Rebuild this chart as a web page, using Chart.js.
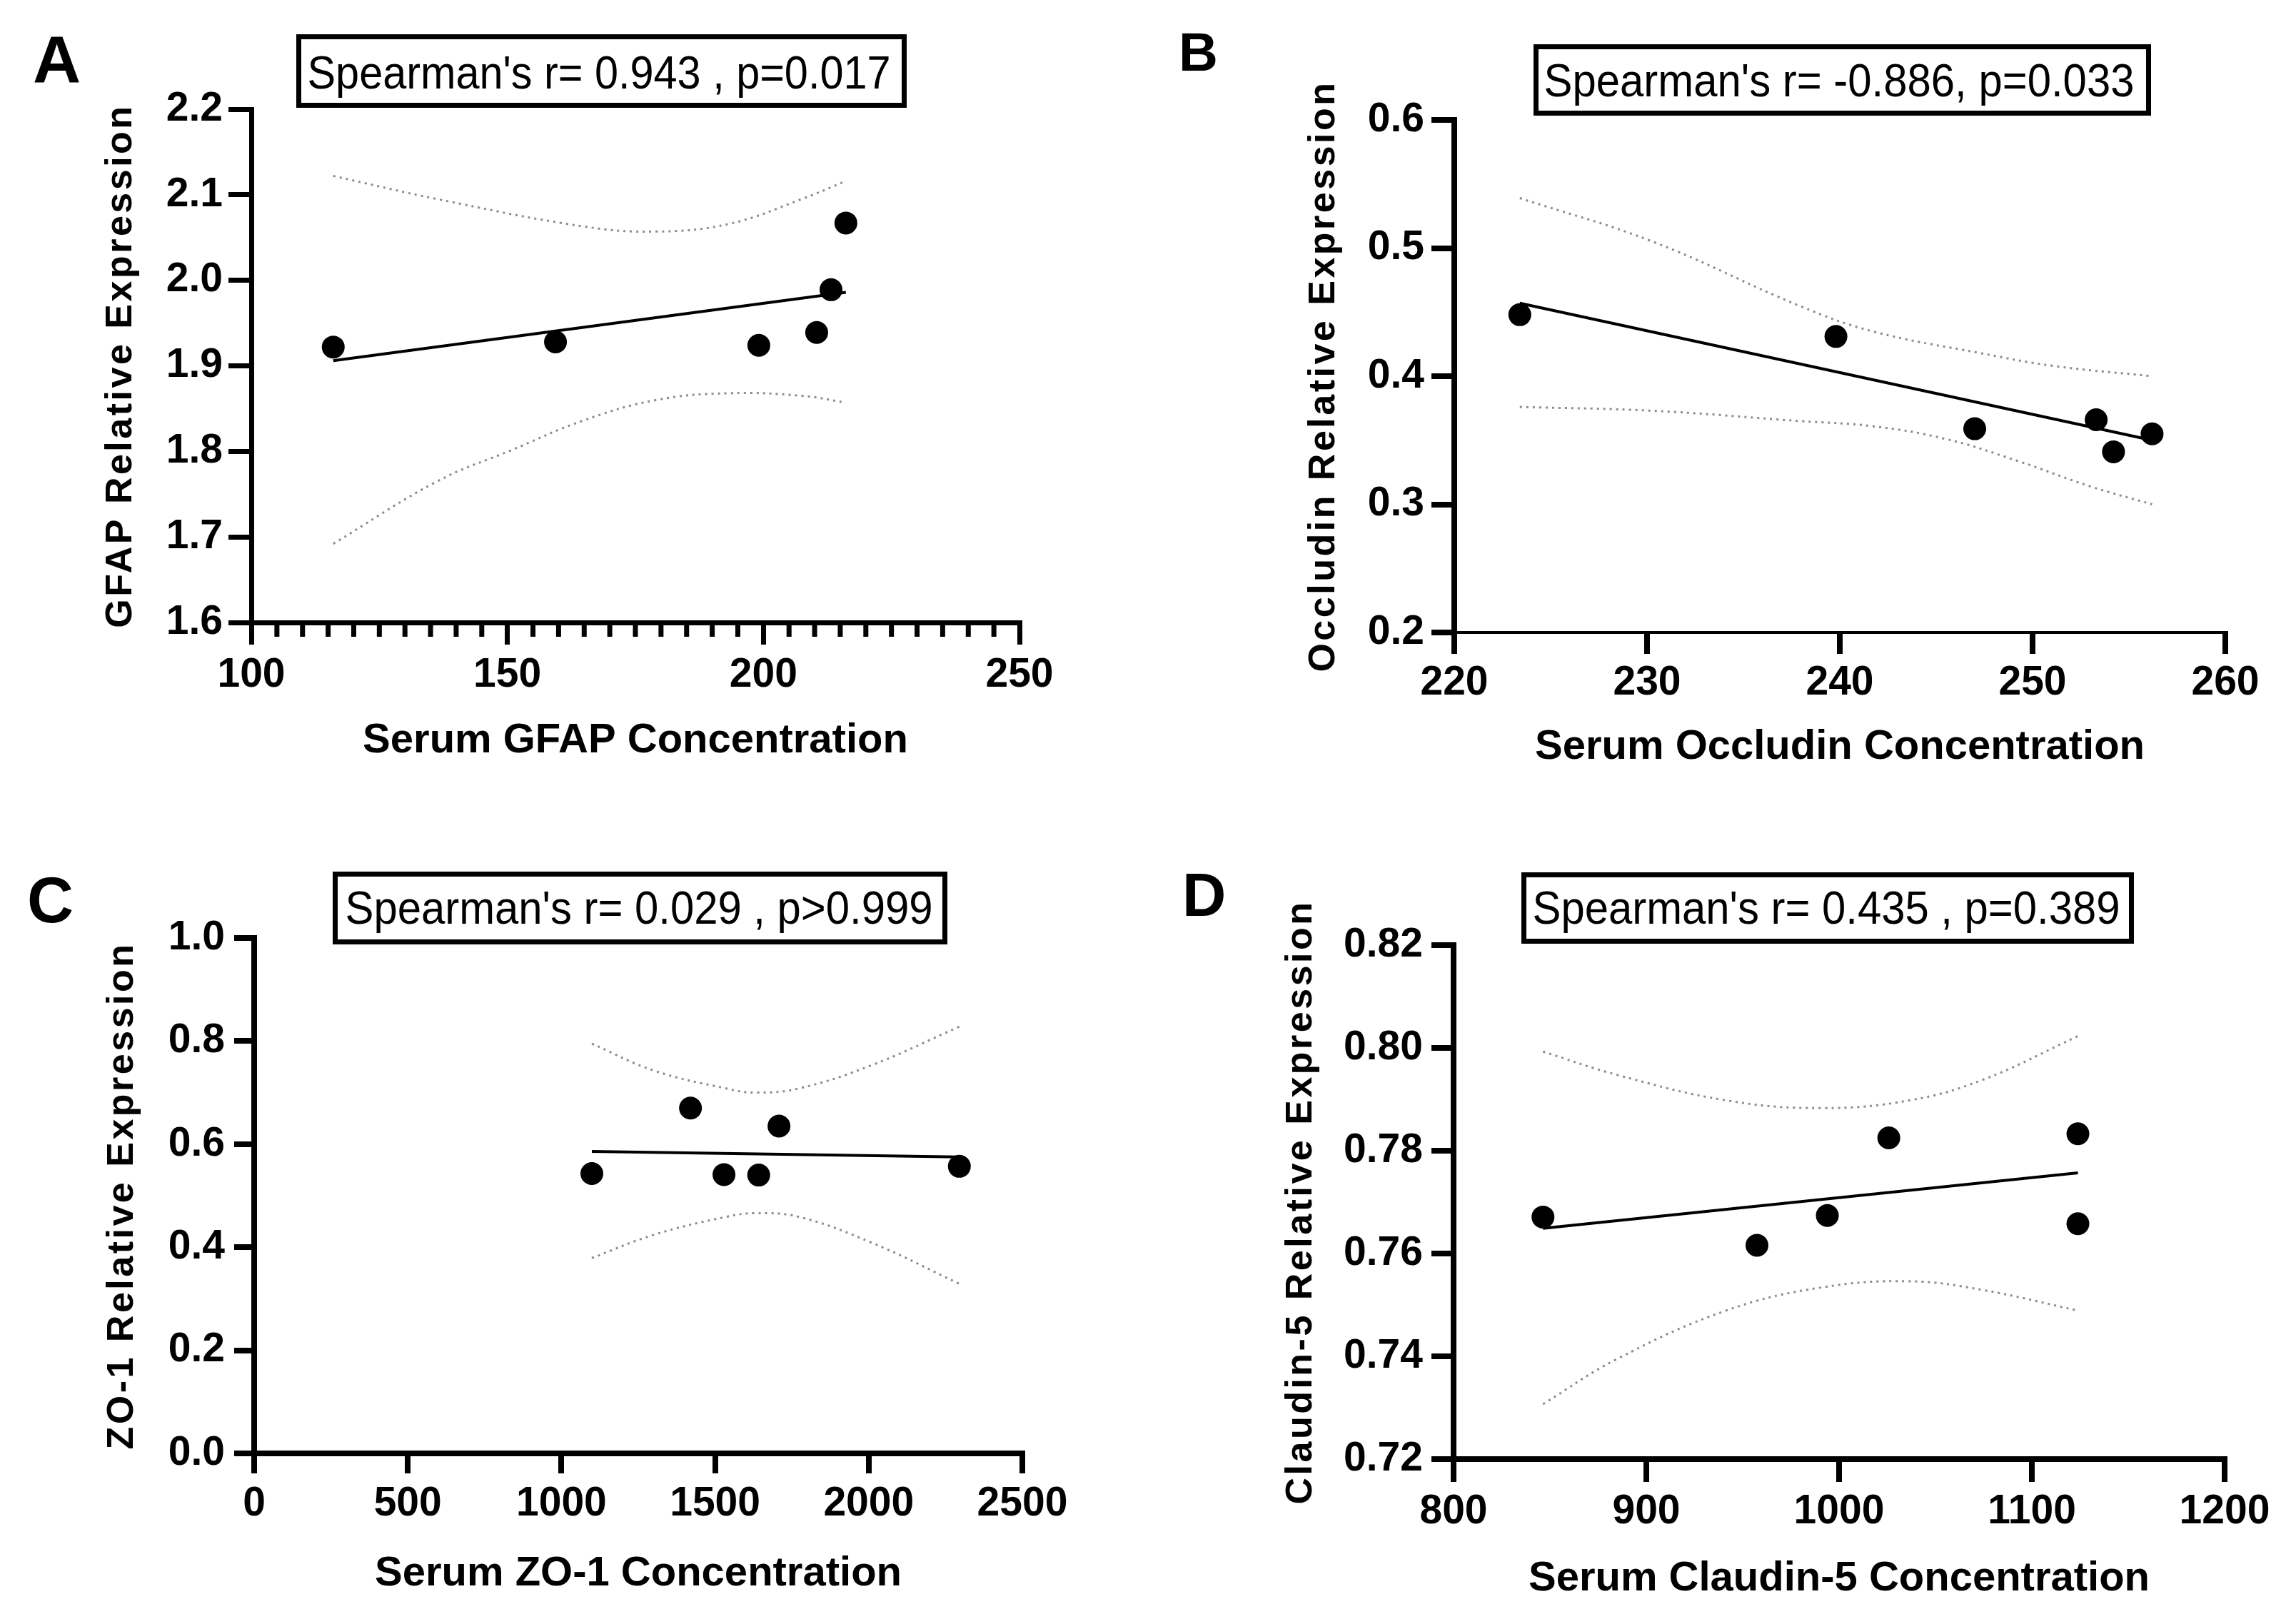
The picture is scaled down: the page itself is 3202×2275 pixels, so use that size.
<!DOCTYPE html>
<html>
<head>
<meta charset="utf-8">
<script src="https://cdn.jsdelivr.net/npm/chart.js@4.4.1/dist/chart.umd.min.js"></script>
<style>
  html, body { margin: 0; padding: 0; background: #fff; }
  #wrap { position: relative; width: 3202px; height: 2275px; background: #fff; }
  canvas { position: absolute; }
</style>
</head>
<body>
<div id="wrap">
  <canvas id="chartA" width="1601" height="1137" style="left:0px;top:0px"></canvas>
  <canvas id="chartB" width="1601" height="1137" style="left:1601px;top:0px"></canvas>
  <canvas id="chartC" width="1601" height="1138" style="left:0px;top:1137px"></canvas>
  <canvas id="chartD" width="1601" height="1138" style="left:1601px;top:1137px"></canvas>
</div>
<script>
const FONT = "'Liberation Sans', Arial, sans-serif";

// A - GFAP
const gfapX = [116.0, 159.4, 199.1, 210.4, 213.2, 216.1];
const gfapY = [1.922, 1.928, 1.924, 1.939, 1.989, 2.067];
const gfapFitX = [116.0, 216.1];
const gfapFitY = [1.906, 1.986];
const gfapUpperX = [116.0, 136.3, 164.8, 179.0, 193.3, 207.5, 216.1];
const gfapUpperY = [2.122, 2.095, 2.063, 2.057, 2.066, 2.095, 2.116];
const gfapLowerX = [116.0, 136.3, 150.6, 164.8, 179.0, 193.3, 207.5, 216.1];
const gfapLowerY = [1.692, 1.765, 1.801, 1.836, 1.860, 1.868, 1.865, 1.857];
const gfapXTicks = [100, 150, 200, 250];
const gfapYTicks = [1.6, 1.7, 1.8, 1.9, 2.0, 2.1, 2.2];

// B - Occludin
const occX = [223.4, 239.8, 247.0, 253.3, 254.2, 256.2];
const occY = [0.448, 0.431, 0.359, 0.366, 0.341, 0.355];
const occFitX = [223.4, 256.2];
const occFitY = [0.457, 0.350];
const occUpperX = [223.4, 230.3, 237.9, 241.7, 247.3, 251.1, 256.2];
const occUpperY = [0.539, 0.505, 0.455, 0.435, 0.418, 0.408, 0.400];
const occLowerX = [223.4, 230.3, 237.9, 241.7, 245.5, 249.2, 253.0, 256.2];
const occLowerY = [0.376, 0.373, 0.365, 0.361, 0.351, 0.334, 0.314, 0.300];
const occXTicks = [220, 230, 240, 250, 260];
const occYTicks = [0.2, 0.3, 0.4, 0.5, 0.6];

// C - ZO-1
const zoX = [1099, 1420, 1529, 1642, 1708, 2295];
const zoY = [0.543, 0.670, 0.541, 0.540, 0.635, 0.557];
const zoFitX = [1099, 2295];
const zoFitY = [0.586, 0.575];
const zoUpperX = [1099, 1300, 1536, 1630, 1772, 2009, 2295];
const zoUpperY = [0.795, 0.743, 0.708, 0.700, 0.708, 0.753, 0.828];
const zoLowerX = [1099, 1300, 1536, 1630, 1772, 2009, 2295];
const zoLowerY = [0.379, 0.424, 0.459, 0.466, 0.459, 0.409, 0.329];
const zoXTicks = [0, 500, 1000, 1500, 2000, 2500];
const zoYTicks = [0.0, 0.2, 0.4, 0.6, 0.8, 1.0];

// D - Claudin-5
const clX = [846.4, 957.4, 993.9, 1025.8, 1123.9, 1123.9];
const clY = [0.7671, 0.7616, 0.7674, 0.7825, 0.7833, 0.7658];
const clFitX = [846.4, 1123.9];
const clFitY = [0.7649, 0.7757];
const clUpperX = [846.4, 884.4, 941.4, 990.9, 1036.5, 1074.5, 1123.9];
const clUpperY = [0.7993, 0.7948, 0.7898, 0.7883, 0.7898, 0.7938, 0.8023];
const clLowerX = [846.4, 884.4, 941.4, 990.9, 1036.5, 1074.5, 1123.9];
const clLowerY = [0.7307, 0.7394, 0.7489, 0.7534, 0.7546, 0.7529, 0.7489];
const clXTicks = [800, 900, 1000, 1100, 1200];
const clYTicks = [0.72, 0.74, 0.76, 0.78, 0.80, 0.82];

const pairs = (xs, ys) => xs.map((x, i) => ({ x: x, y: ys[i] }));

// letter, stats box, rotated y title, minor ticks
const panelDeco = {
  id: 'panelDeco',
  afterDraw(chart, args, o) {
    const ctx = chart.ctx;
    const area = chart.chartArea;
    ctx.save();
    ctx.fillStyle = '#000';
    ctx.textAlign = 'left';
    ctx.textBaseline = 'alphabetic';
    ctx.font = 'bold ' + o.letterSize + 'px ' + FONT;
    ctx.fillText(o.letter, o.letterX, o.letterY);

    ctx.lineWidth = 7;
    ctx.strokeStyle = '#000';
    const b = o.box;
    ctx.strokeRect(b[0] + 3.5, b[1] + 3.5, b[2] - b[0] - 7, b[3] - b[1] - 7);
    ctx.font = '65px ' + FONT;
    const w = ctx.measureText(o.stat).width;
    ctx.translate(o.statX, o.statY);
    ctx.scale(o.statW / w, 1);
    ctx.textAlign = 'center';
    ctx.fillText(o.stat, 0, 0);
    ctx.restore();

    ctx.save();
    ctx.fillStyle = '#000';
    ctx.font = 'bold 52px ' + FONT;
    ctx.letterSpacing = '3.5px';
    ctx.translate(o.yTitleX, (area.top + area.bottom) / 2);
    ctx.rotate(-Math.PI / 2);
    ctx.textAlign = 'center';
    ctx.textBaseline = 'middle';
    ctx.fillText(o.yTitle, 0, 0);
    ctx.restore();

    if (o.minorStep) {
      const xs = chart.scales.x;
      ctx.save();
      ctx.strokeStyle = '#000';
      ctx.lineWidth = 7;
      for (let v = xs.min + o.minorStep; v < xs.max; v += o.minorStep) {
        if (v % o.majorStep === 0) continue;
        const px = xs.getPixelForValue(v);
        ctx.beginPath();
        ctx.moveTo(px, xs.top);
        ctx.lineTo(px, xs.top + o.minorLen);
        ctx.stroke();
      }
      ctx.restore();
    }
  }
};

function panel(id, p) {
  new Chart(document.getElementById(id), {
    type: 'scatter',
    data: {
      datasets: [
        { data: pairs(p.x, p.y), pointRadius: 16, pointHoverRadius: 16, backgroundColor: '#000', borderWidth: 0 },
        { data: pairs(p.fitX, p.fitY), showLine: true, pointRadius: 0, borderColor: '#000', borderWidth: 4 },
        { data: pairs(p.upX, p.upY), showLine: true, pointRadius: 0, borderColor: '#8c8c8c', borderWidth: 3, borderDash: [3, 6], tension: 0.4 },
        { data: pairs(p.loX, p.loY), showLine: true, pointRadius: 0, borderColor: '#8c8c8c', borderWidth: 3, borderDash: [3, 6], tension: 0.4 }
      ]
    },
    options: {
      responsive: false,
      animation: false,
      devicePixelRatio: 1,
      events: [],
      layout: { padding: { left: 20, right: p.padR, top: p.top, bottom: p.padB } },
      plugins: {
        legend: { display: false },
        tooltip: { enabled: false },
        panelDeco: p.deco
      },
      scales: {
        x: {
          type: 'linear',
          min: p.xTicks[0],
          max: p.xTicks[p.xTicks.length - 1],
          afterBuildTicks: s => { s.ticks = p.xTicks.map(v => ({ value: v })); },
          afterFit: s => { s.height = p.xH; },
          grid: { drawOnChartArea: false, drawTicks: true, tickLength: p.xTl, tickWidth: p.xTw, lineWidth: p.xTw, color: '#000' },
          border: { color: '#000', width: p.xBw },
          ticks: { color: '#000', font: { family: FONT, size: 57, weight: 'bold' }, padding: p.xPad, maxRotation: 0, autoSkip: false,
                   callback: v => Number(v).toFixed(0) },
          title: { display: true, text: p.xTitle, color: '#000', font: { family: FONT, size: 58, weight: 'bold' }, padding: 0 }
        },
        y: {
          type: 'linear',
          min: p.yTicks[0],
          max: p.yTicks[p.yTicks.length - 1],
          afterBuildTicks: s => { s.ticks = p.yTicks.map(v => ({ value: v })); },
          afterFit: s => { s.width = p.left - 20; },
          grid: { drawOnChartArea: false, drawTicks: true, tickLength: p.yTl, tickWidth: p.yTw, lineWidth: p.yTw, color: '#000' },
          border: { color: '#000', width: p.yBw },
          ticks: { color: '#000', font: { family: FONT, size: 57, weight: 'bold' }, padding: p.yPad, autoSkip: false,
                   callback: v => Number(v).toFixed(p.yDec) }
        }
      }
    },
    plugins: [panelDeco]
  });
}

panel('chartA', {
  x: gfapX, y: gfapY, fitX: gfapFitX, fitY: gfapFitY,
  upX: gfapUpperX, upY: gfapUpperY, loX: gfapLowerX, loY: gfapLowerY,
  xTicks: gfapXTicks, yTicks: gfapYTicks, yDec: 1,
  xTitle: 'Serum GFAP Concentration',
  left: 352, top: 153, padR: 173, padB: 64, xH: 201,
  xTl: 31, yTl: 32, xTw: 7, yTw: 7, xBw: 7, yBw: 7, xPad: 9, yPad: 8,
  deco: { letter: 'A', letterSize: 93, letterX: 46, letterY: 115,
          box: [415, 48, 1270, 151], stat: "Spearman's r= 0.943 , p=0.017", statX: 839, statY: 124, statW: 817,
          yTitle: 'GFAP Relative Expression', yTitleX: 170,
          minorStep: 5, majorStep: 50, minorLen: 20 }
});

panel('chartB', {
  x: occX, y: occY, fitX: occFitX, fitY: occFitY,
  upX: occUpperX, upY: occUpperY, loX: occLowerX, loY: occLowerY,
  xTicks: occXTicks, yTicks: occYTicks, yDec: 1,
  xTitle: 'Serum Occludin Concentration',
  left: 436, top: 168, padR: 85, padB: 55, xH: 196,
  xTl: 30, yTl: 32, xTw: 8, yTw: 8, xBw: 4, yBw: 8, xPad: 7, yPad: 10,
  deco: { letter: 'B', letterSize: 76, letterX: 50, letterY: 99,
          box: [547, 62, 1412, 162], stat: "Spearman's r= -0.886, p=0.033", statX: 975, statY: 135, statW: 827,
          yTitle: 'Occludin Relative Expression', yTitleX: 254 }
});

panel('chartC', {
  x: zoX, y: zoY, fitX: zoFitX, fitY: zoFitY,
  upX: zoUpperX, upY: zoUpperY, loX: zoLowerX, loY: zoLowerY,
  xTicks: zoXTicks, yTicks: zoYTicks, yDec: 1,
  xTitle: 'Serum ZO-1 Concentration',
  left: 356, top: 177, padR: 169, padB: 35, xH: 204,
  xTl: 28, yTl: 28, xTw: 8, yTw: 8, xBw: 8, yBw: 8, xPad: 9, yPad: 13,
  deco: { letter: 'C', letterSize: 90, letterX: 38, letterY: 155,
          box: [466, 84, 1327, 186], stat: "Spearman's r= 0.029 , p>0.999", statX: 895, statY: 157, statW: 823,
          yTitle: 'ZO-1 Relative Expression', yTitleX: 172 }
});

panel('chartD', {
  x: clX, y: clY, fitX: clFitX, fitY: clFitY,
  upX: clUpperX, upY: clUpperY, loX: clLowerX, loY: clLowerY,
  xTicks: clXTicks, yTicks: clYTicks, yDec: 2,
  xTitle: 'Serum Claudin-5 Concentration',
  left: 435, top: 187, padR: 86, padB: 28, xH: 203,
  xTl: 32, yTl: 31, xTw: 8, yTw: 8, xBw: 8, yBw: 8, xPad: 8, yPad: 12,
  deco: { letter: 'D', letterSize: 85, letterX: 55, letterY: 146,
          box: [530, 85, 1388, 185], stat: "Spearman's r= 0.435 , p=0.389", statX: 957, statY: 157, statW: 823,
          yTitle: 'Claudin-5 Relative Expression', yTitleX: 222 }
});
</script>
</body>
</html>
